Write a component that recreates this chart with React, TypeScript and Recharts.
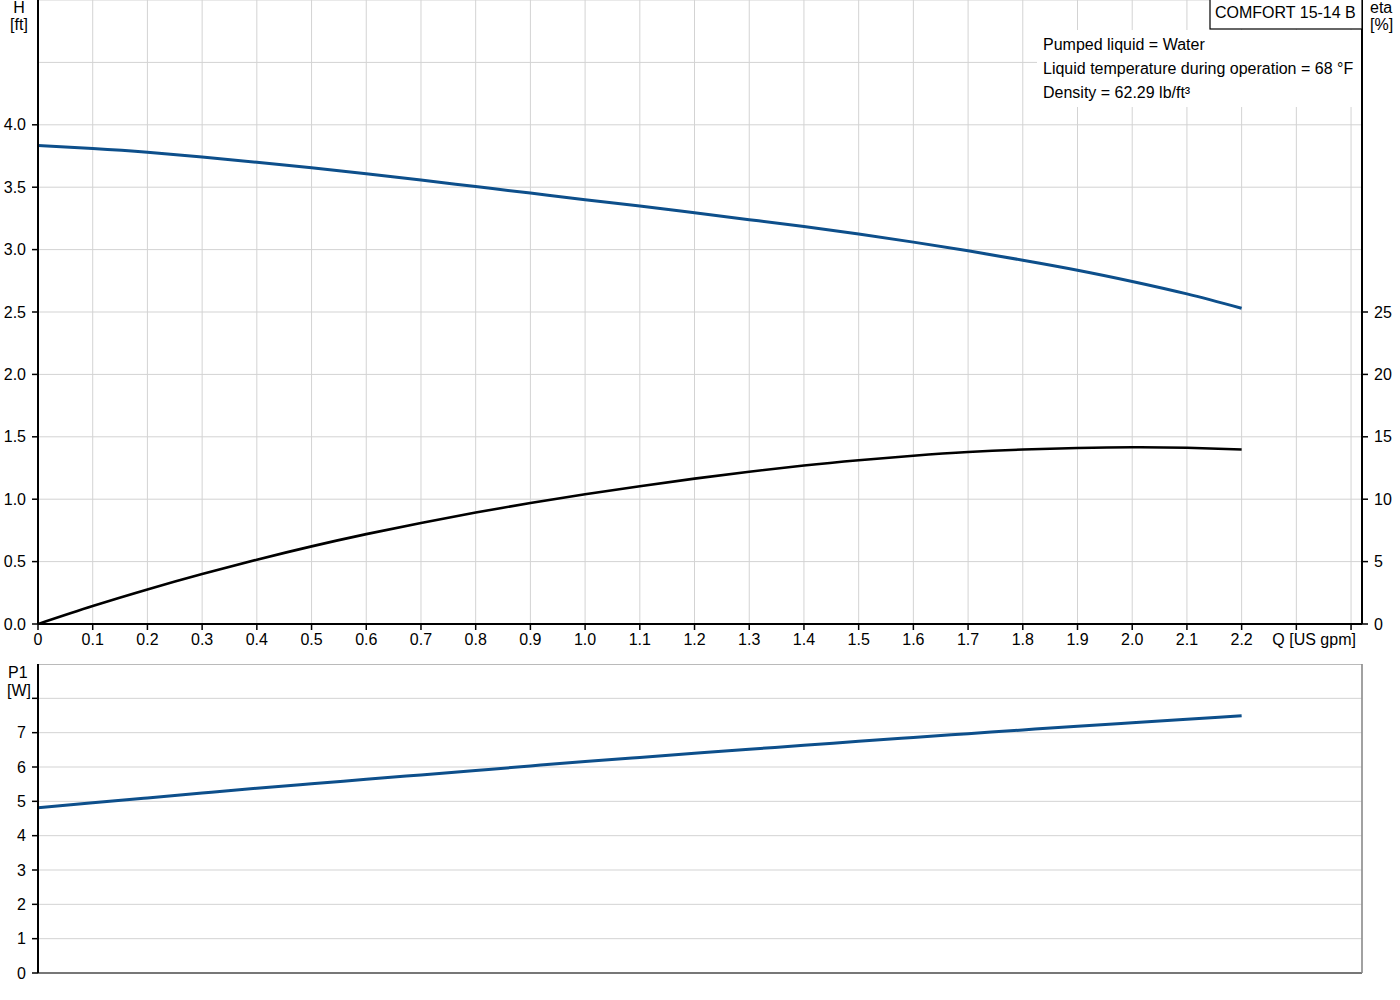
import React from 'react';
import { LineChart, Line, XAxis, YAxis, CartesianGrid, ReferenceLine } from 'recharts';

// ---- data ----
const FLOW = [0, 0.1, 0.2, 0.3, 0.4, 0.5, 0.6, 0.7, 0.8, 0.9, 1.0, 1.1, 1.2, 1.3, 1.4, 1.5, 1.6, 1.7, 1.8, 1.9, 2.0, 2.1, 2.2];
const HEAD = [3.835, 3.81, 3.78, 3.742, 3.7, 3.655, 3.607, 3.557, 3.505, 3.453, 3.4, 3.35, 3.295, 3.24, 3.185, 3.125, 3.06, 2.99, 2.915, 2.835, 2.745, 2.645, 2.53];
const ETA = [0, 1.44, 2.77, 4.0, 5.15, 6.22, 7.2, 8.1, 8.93, 9.7, 10.4, 11.04, 11.65, 12.2, 12.7, 13.12, 13.48, 13.78, 13.98, 14.1, 14.16, 14.12, 13.98];
const POWER = [4.81, 4.96, 5.1, 5.24, 5.38, 5.51, 5.64, 5.77, 5.9, 6.03, 6.16, 6.28, 6.4, 6.52, 6.63, 6.75, 6.86, 6.97, 7.08, 7.19, 7.29, 7.39, 7.49];

const X_TICKS = [0, 0.1, 0.2, 0.3, 0.4, 0.5, 0.6, 0.7, 0.8, 0.9, 1.0, 1.1, 1.2, 1.3, 1.4, 1.5, 1.6, 1.7, 1.8, 1.9, 2.0, 2.1, 2.2, 2.3, 2.4];
const X_LABELS = ['0', '0.1', '0.2', '0.3', '0.4', '0.5', '0.6', '0.7', '0.8', '0.9', '1.0', '1.1', '1.2', '1.3', '1.4', '1.5', '1.6', '1.7', '1.8', '1.9', '2.0', '2.1', '2.2', 'Q [US gpm]', ''];
const H_TICKS = [0, 0.5, 1, 1.5, 2, 2.5, 3, 3.5, 4, 4.5, 5];
const H_LABELS = ['0.0', '0.5', '1.0', '1.5', '2.0', '2.5', '3.0', '3.5', '4.0', '', ''];
const ETA_TICKS = [0, 5, 10, 15, 20, 25];
const ETA_LABELS = ['0', '5', '10', '15', '20', '25'];
const P_TICKS = [0, 1, 2, 3, 4, 5, 6, 7, 8, 9];
const P_LABELS = ['0', '1', '2', '3', '4', '5', '6', '7', '', ''];
const INFO_LINES = ['Pumped liquid = Water', 'Liquid temperature during operation = 68 °F', 'Density = 62.29 lb/ft³'];
const PUMP_NAME = 'COMFORT 15-14 B';

const FONT = '"Liberation Sans", Arial, sans-serif';
const BLUE = '#0d4f8b';
const GRID = '#d3d3d3';

const topData = FLOW.map((q, i) => ({ q, head: HEAD[i], eta: ETA[i] }));
const bottomData = FLOW.map((q, i) => ({ q, p: POWER[i] }));

const XTick = (props: any) => {
  const { x, y, payload } = props;
  const idx = X_TICKS.findIndex((t) => Math.abs(t - payload.value) < 1e-6);
  const label = X_LABELS[idx] ?? '';
  const isUnit = label.startsWith('Q');
  return (
    <g>
      <line x1={x} x2={x} y1={y} y2={y + 6} stroke="#000" strokeWidth={1.5} />
      <text x={isUnit ? x - 24 : x} y={y + 21} textAnchor={isUnit ? 'start' : 'middle'} fontSize={16} fontFamily={FONT} fill="#000">
        {label}
      </text>
    </g>
  );
};

const HTick = (props: any) => {
  const { x, y, payload } = props;
  const idx = H_TICKS.findIndex((t) => Math.abs(t - payload.value) < 1e-6);
  const label = H_LABELS[idx] ?? '';
  if (!label) return <g />;
  return (
    <g>
      <line x1={x - 6} x2={x} y1={y} y2={y} stroke="#000" strokeWidth={1.5} />
      <text x={x - 12} y={y + 5.5} textAnchor="end" fontSize={16} fontFamily={FONT} fill="#000">
        {label}
      </text>
    </g>
  );
};

const EtaTick = (props: any) => {
  const { x, y, payload } = props;
  const idx = ETA_TICKS.findIndex((t) => Math.abs(t - payload.value) < 1e-6);
  const label = ETA_LABELS[idx] ?? '';
  return (
    <g>
      <line x1={x} x2={x + 6} y1={y} y2={y} stroke="#000" strokeWidth={1.5} />
      <text x={x + 12} y={y + 5.5} textAnchor="start" fontSize={16} fontFamily={FONT} fill="#000">
        {label}
      </text>
    </g>
  );
};

const PTick = (props: any) => {
  const { x, y, payload } = props;
  const idx = P_TICKS.findIndex((t) => Math.abs(t - payload.value) < 1e-6);
  const label = P_LABELS[idx] ?? '';
  if (payload.value > 8.5) return <g />;
  return (
    <g>
      <line x1={x - 6} x2={x} y1={y} y2={y} stroke="#000" strokeWidth={1.5} />
      <text x={x - 12} y={y + 5.5} textAnchor="end" fontSize={16} fontFamily={FONT} fill="#000">
        {label}
      </text>
    </g>
  );
};

export default function App() {
  return (
    <div style={{ position: 'absolute', left: 0, top: 0, width: 1400, height: 1000, background: '#fff', fontFamily: FONT }}>
      <div style={{ position: 'absolute', left: 0, top: 0 }}>
        <LineChart width={1400} height={654} data={topData} margin={{ top: 0, right: 0, bottom: 0, left: 0 }}>
          <CartesianGrid yAxisId="h" stroke={GRID} strokeWidth={1} />
          <XAxis
            dataKey="q"
            type="number"
            domain={[0, 2.42]}
            ticks={X_TICKS}
            interval={0}
            height={30}
            tickSize={0}
            tickMargin={0}
            tickLine={false}
            axisLine={{ stroke: '#000', strokeWidth: 2 }}
            tick={XTick}
            allowDataOverflow
          />
          <YAxis
            yAxisId="h"
            orientation="left"
            type="number"
            domain={[0, 5]}
            ticks={H_TICKS}
            interval={0}
            width={38}
            tickSize={0}
            tickMargin={0}
            tickLine={false}
            axisLine={{ stroke: '#000', strokeWidth: 2 }}
            tick={HTick}
            allowDataOverflow
          />
          <YAxis
            yAxisId="eta"
            orientation="right"
            type="number"
            domain={[0, 50]}
            ticks={ETA_TICKS}
            interval={0}
            width={38}
            tickSize={0}
            tickMargin={0}
            tickLine={false}
            axisLine={{ stroke: '#000', strokeWidth: 2 }}
            tick={EtaTick}
            allowDataOverflow
          />
          <Line yAxisId="h" type="natural" dataKey="head" stroke={BLUE} strokeWidth={3} dot={false} isAnimationActive={false} />
          <Line yAxisId="eta" type="natural" dataKey="eta" stroke="#000" strokeWidth={2.6} dot={false} isAnimationActive={false} />
        </LineChart>
      </div>

      <div style={{ position: 'absolute', left: 0, top: 664 }}>
        <LineChart width={1400} height={319} data={bottomData} margin={{ top: 0, right: 0, bottom: 0, left: 0 }}>
          <CartesianGrid yAxisId="p" stroke={GRID} strokeWidth={1} />
          <XAxis
            dataKey="q"
            type="number"
            domain={[0, 2.42]}
            ticks={X_TICKS}
            interval={0}
            height={10}
            tick={false}
            tickLine={false}
            axisLine={{ stroke: '#777', strokeWidth: 2 }}
            allowDataOverflow
          />
          <YAxis
            yAxisId="p"
            orientation="left"
            type="number"
            domain={[0, 9]}
            ticks={P_TICKS}
            interval={0}
            width={38}
            tickSize={0}
            tickMargin={0}
            tickLine={false}
            axisLine={{ stroke: '#000', strokeWidth: 2 }}
            tick={PTick}
            allowDataOverflow
          />
          <YAxis
            yAxisId="r"
            orientation="right"
            type="number"
            domain={[0, 9]}
            width={38}
            tick={false}
            tickLine={false}
            axisLine={{ stroke: '#888', strokeWidth: 1.5 }}
          />
          <ReferenceLine yAxisId="p" y={9} stroke="#aaa" strokeWidth={1.5} />
          <Line yAxisId="p" type="natural" dataKey="p" stroke={BLUE} strokeWidth={3} dot={false} isAnimationActive={false} />
        </LineChart>
      </div>

      <svg width={1400} height={1000} style={{ position: 'absolute', left: 0, top: 0, pointerEvents: 'none' }}>
        <g fontFamily={FONT} fontSize={16} fill="#000">
          <text x={19} y={13} textAnchor="middle">H</text>
          <text x={19} y={30} textAnchor="middle">[ft]</text>
          <text x={1370} y={13}>eta</text>
          <text x={1370} y={30}>[%]</text>
          <rect x={1037} y={30} width={324} height={77} fill="#fff" />
          <rect x={1210} y={-1} width={152} height={30} fill="#fff" stroke="#000" strokeWidth={1.2} />
          <text x={1215} y={18}>{PUMP_NAME}</text>
          {INFO_LINES.map((t, i) => (
            <text key={t} x={1043} y={50 + i * 24}>{t}</text>
          ))}
          <text x={8} y={678}>P1</text>
          <text x={7} y={696}>[W]</text>
        </g>
      </svg>
    </div>
  );
}
